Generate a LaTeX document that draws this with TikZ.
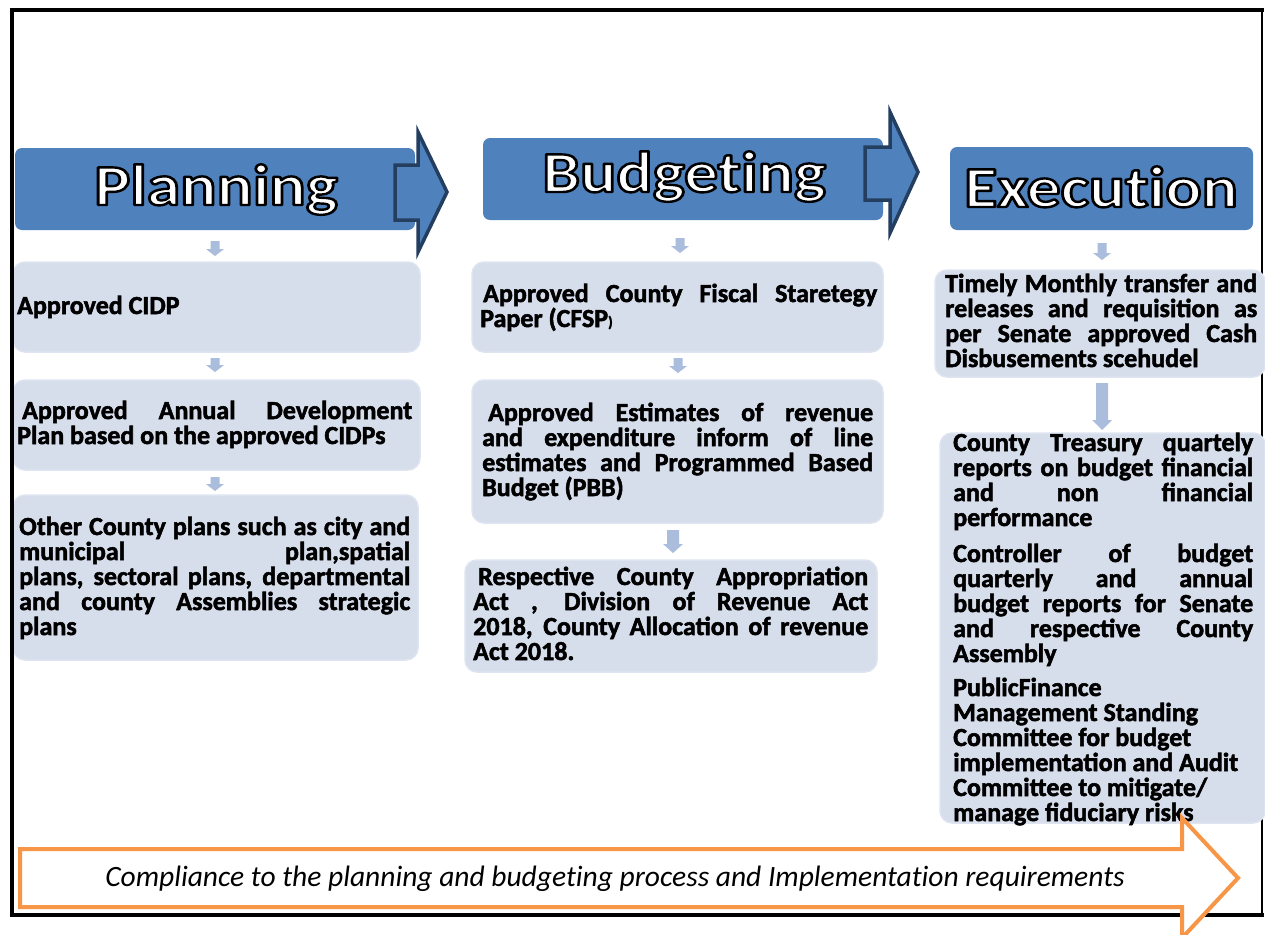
\documentclass[tikz,border=0pt]{standalone}
\usepackage{fontspec}
\setmainfont{Carlito}[BoldFeatures={FakeBold=2}]
\newfontfamily\hdrfamily{Carlito}[Ligatures={NoCommon}]
\usepackage{graphicx}
\usetikzlibrary{calc}
\definecolor{hdrblue}{RGB}{79,129,189}
\definecolor{navyc}{RGB}{36,62,96}
\definecolor{boxfill}{RGB}{214,221,235}
\definecolor{boxedge}{RGB}{222,228,240}
\definecolor{arrfill}{RGB}{170,189,220}
\definecolor{orangec}{RGB}{247,150,70}

% white letters with a black outline, set once (fill + stroke render mode)
\newcommand\outlinetext[1]{\scalebox{1.165}[1]{\textcolor{white}{\special{pdf:literal direct 0 G 2.4 w 1 j 2 Tr}#1\special{pdf:literal direct 0 Tr}}}}
\newcommand\blockdown[6]{%
  \fill[arrfill] ({#1-#4},#2) -- ({#1+#4},#2) -- ({#1+#4},{#3-#6}) -- ({#1+#5},{#3-#6}) -- (#1,#3) -- ({#1-#5},{#3-#6}) -- ({#1-#4},{#3-#6}) -- cycle;}
\newcommand\bodyfont{\fontsize{26}{25}\selectfont\bfseries\hyphenpenalty=10000\exhyphenpenalty=10000\tolerance=10000}

\tikzset{
  hdr/.style={fill=hdrblue, rounded corners=7pt, inner sep=0},
  hdrtxt/.style={anchor=base, inner sep=0, font=\hdrfamily\fontsize{58}{60}\selectfont\bfseries},
  lbox/.style={fill=boxfill, draw=boxedge, line width=1.5pt, rounded corners=12pt, inner sep=0},
  para/.style={anchor=base west, inner sep=0, text width=#1, align=justify, font=\bodyfont},
  navyarrow/.style={draw=navyc, line width=3.5pt, fill=hdrblue, line join=miter},
}

\begin{document}
\begin{tikzpicture}[x=1pt,y=-1pt]
\useasboundingbox (0,0) rectangle (1265,934);
\clip (0,0) rectangle (1265,934);
\fill[white] (0,0) rectangle (1265,934);

% right frame side (under boxes)
\draw[line width=2.5pt] (1262,10) -- (1262,915);

% headers
\node[hdr, minimum width=400, minimum height=82] (plan) at (215,189) {};
\node[hdr, minimum width=400, minimum height=82] (budg) at (683,179) {};
\node[hdr, minimum width=303, minimum height=83] (exec) at (1101.5,188.5) {};

\draw[navyarrow] (395,165) -- (418,165) -- (418,132) -- (447,192) -- (418,252) -- (418,220) -- (395,220) -- cycle;
\draw[navyarrow] (865,147) -- (890,147) -- (890,112) -- (918,172) -- (890,233) -- (890,200) -- (865,200) -- cycle;

\node[hdrtxt] (planT) at (216,205) {\outlinetext{Planning}};
\node[hdrtxt] (budgT) at (684,192) {\outlinetext{Budgeting}};
\node[hdrtxt] (execT) at (1101,207) {\outlinetext{Execution}};

% light boxes
\node[lbox, minimum width=407, minimum height=90] (l1) at (216.5,307) {};
\node[lbox, minimum width=407, minimum height=90] (l2) at (216.5,425) {};
\node[lbox, minimum width=405, minimum height=165] (l3) at (215.5,577.5) {};
\node[lbox, minimum width=411, minimum height=90] (m1) at (677.5,307) {};
\node[lbox, minimum width=411, minimum height=143] (m2) at (677.5,451.5) {};
\node[lbox, minimum width=412, minimum height=112] (m3) at (671,616) {};
\node[lbox, minimum width=330, minimum height=107] (r1) at (1100,323.5) {};
\node[lbox, minimum width=325, minimum height=390] (r2) at (1102.5,628) {};

% block arrows
\blockdown{215}{241}{256}{4.5}{9}{7}
\blockdown{215}{358}{372}{4.5}{9}{7}
\blockdown{215}{477}{491}{4.5}{9}{7}
\blockdown{680}{238}{253}{4.5}{9}{7}
\blockdown{678}{358}{373}{4.5}{9}{7}
\blockdown{673}{530}{553}{6}{10}{9}
\blockdown{1102}{243}{260}{4.5}{9}{7}
\blockdown{1102}{383}{430}{6}{10}{10}

% texts
\node[para=395] (l1t) at (17,314) {Approved CIDP};
\node[para=395] (l2t) at (17,419) {\hspace*{5pt}Approved Annual Development\linebreak Plan based on the approved CIDPs};
\node[para=391] (l3t) at (19,535) {Other County plans such as city and\linebreak municipal plan,spatial\linebreak plans, sectoral plans, departmental\linebreak and county Assemblies strategic\linebreak plans};

\node[para=397] (m1t) at (480,302) {\hspace*{3pt}Approved County Fiscal Staretegy\linebreak Paper (CFSP{\fontsize{15}{15}\selectfont)}};
\node[para=391] (m2t) at (482,421) {\hspace*{6pt}Approved Estimates of revenue\linebreak and expenditure inform of line\linebreak estimates and Programmed Based\linebreak Budget (PBB)};
\node[para=395] (m3t) at (473,585) {\hspace*{5pt}Respective County Appropriation\linebreak Act , Division of Revenue Act\linebreak 2018, County Allocation of revenue\linebreak Act 2018.};

\node[para=312] (r1t) at (945,292) {Timely Monthly transfer and\linebreak releases and requisition as\linebreak per Senate approved Cash\linebreak Disbusements scehudel};
\node[para=300] (r2t) at (953,451) {County Treasury quartely\linebreak reports on budget financial\linebreak and non financial\linebreak performance\par\vspace{11pt}
Controller of budget\linebreak quarterly and annual\linebreak budget reports for Senate\linebreak and respective County\linebreak Assembly\par\vspace{9pt}
PublicFinance\\ Management Standing\\ Committee for budget\\ implementation and Audit\\ Committee to mitigate/\\ manage fiduciary risks};

% frame (left, top, bottom)
\draw[line width=4.5pt, line cap=rect] (1262,10) -- (12,10) -- (12,915) -- (1262,915);

% bottom compliance arrow
\draw[draw=orangec, line width=4pt, fill=white, line join=miter] (20,849) -- (1182,849) -- (1182,818) -- (1238,878) -- (1182,938) -- (1182,907) -- (20,907) -- cycle;
\node[anchor=base, inner sep=0, font=\hdrfamily\fontsize{29.5}{31}\selectfont\itshape] (comp) at (615,886) {Compliance to the planning and budgeting process and Implementation requirements};
\end{tikzpicture}
\end{document}
